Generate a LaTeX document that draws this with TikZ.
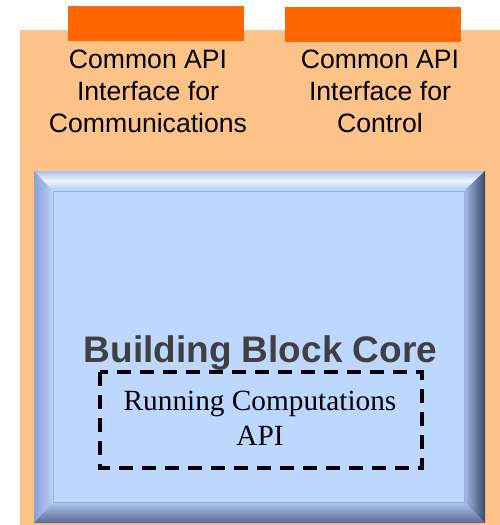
\documentclass[tikz,border=0pt]{standalone}
\usepackage{fontspec}
\setmainfont{Liberation Serif}
\setsansfont{Liberation Sans}
\definecolor{bgorange}{HTML}{FDC288}
\definecolor{taborange}{HTML}{FF6600}
\definecolor{face}{HTML}{BDD7FF}
\definecolor{darktext}{HTML}{404040}
\definecolor{topA}{HTML}{A9C0EE}
\definecolor{topB}{HTML}{EEF5FF}
\definecolor{leftA}{HTML}{8CA2D6}
\definecolor{leftB}{HTML}{B6CDF8}
\definecolor{rightA}{HTML}{A0B8E8}
\definecolor{rightM}{HTML}{8098CC}
\definecolor{rightB}{HTML}{3C4866}
\definecolor{botA}{HTML}{ABC3EE}
\definecolor{botB}{HTML}{5A6A92}
\definecolor{edgeline}{HTML}{97ADD8}
\tikzset{
  px/.style={x=1pt,y=-1pt},
  tabbox/.style={fill=taborange,draw=none},
  apitext/.style={font=\sffamily\fontsize{26.6}{32}\selectfont,align=center,inner sep=0pt,text=black},
  coretext/.style={font=\sffamily\bfseries\fontsize{37}{44}\selectfont,text=darktext,inner sep=0pt},
  runtext/.style={font=\rmfamily\fontsize{29.3}{35}\selectfont,align=center,inner sep=0pt,text=black},
  dashbox/.style={draw=black,line width=3.6pt,dash pattern=on 14pt off 9pt}
}
\begin{document}
\begin{tikzpicture}[px]
\useasboundingbox (0,0) rectangle (500,525);
% orange background
\fill[bgorange] (20,30) rectangle (500,525);
% tabs
\fill[tabbox] (68,6) rectangle (244,41);
\fill[tabbox] (285,7) rectangle (461,42);
% texts
\node[apitext] (comm) at (148,91) {Common API\\Interface for\\Communications};
\node[apitext] (ctrl) at (380,91) {Common API\\Interface for\\Control};
% bevel box
\shade[top color=topA, bottom color=leftB, middle color=topB] (34,171) -- (485,171) -- (465,190) -- (52,190) -- cycle;
\shade[left color=leftA, right color=leftB] (34,171) -- (52,190) -- (52,503) -- (34,523) -- cycle;
\shade[left color=rightA, middle color=rightM, right color=rightB] (485,171) -- (465,190) -- (465,503) -- (485,523) -- cycle;
\shade[top color=botA, bottom color=botB] (34,523) -- (52,503) -- (465,503) -- (485,523) -- cycle;
\fill[face] (52,190) rectangle (465,503);
\draw[edgeline, line width=1pt] (53,191) rectangle (464,502);
% core text
\node[coretext,anchor=base] (core) at (260.5,362) {Building Block Core};
% dashed box
\draw[dashbox] (100,372) rectangle (422,468);
\node[runtext] (run) at (260,418) {Running Computations\\API};
\end{tikzpicture}
\end{document}
